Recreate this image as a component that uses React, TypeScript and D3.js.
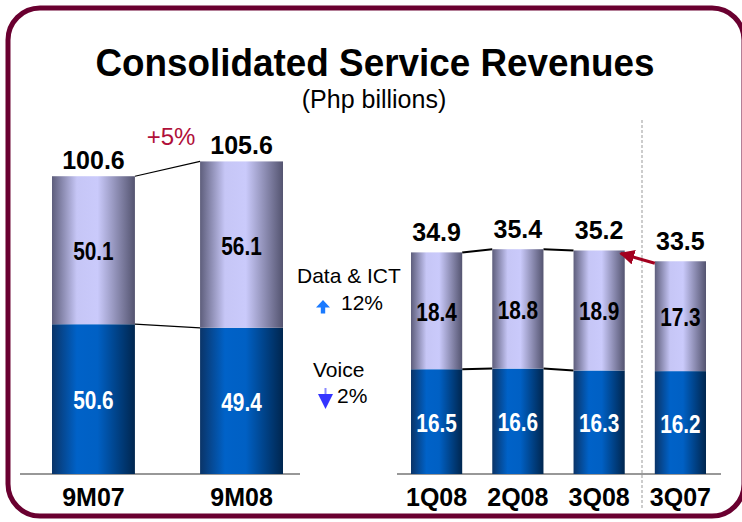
import React from 'react';
import * as d3 from 'd3';

// period totals and their split (Php billions)
const ytdCats = ['9M07', '9M08'];
const ytdVoice = [50.6, 49.4];
const ytdData = [50.1, 56.1];
const ytdTotal = [100.6, 105.6];
const ytdGrowth = '+5%';

const qtrCats = ['1Q08', '2Q08', '3Q08', '3Q07'];
const qtrVoice = [16.5, 16.6, 16.3, 16.2];
const qtrData = [18.4, 18.8, 18.9, 17.3];
const qtrTotal = [34.9, 35.4, 35.2, 33.5];
const qtrLinked = ['1Q08', '2Q08', '3Q08']; // connector lines run between these

const legendRows = [
  { name: 'Data & ICT', change: '12%', dir: 'up' },
  { name: 'Voice', change: '2%', dir: 'down' },
];

const W = 742;
const H = 522;
const base = 474;
const sans = 'Liberation Sans, Arial, sans-serif';
const narrow = 'Liberation Sans Narrow, Arial Narrow, Liberation Sans, sans-serif';

type Panel = {
  cats: string[];
  voice: number[];
  data: number[];
  total: number[];
  x: d3.ScaleBand<string>;
  y: d3.ScaleLinear<number, number>;
  linked: string[];
  topGap: number;
  stroke: number;
};

const left: Panel = {
  cats: ytdCats, voice: ytdVoice, data: ytdData, total: ytdTotal,
  x: d3.scaleBand<string>().domain(ytdCats).range([52, 283]).paddingInner(0.44),
  y: d3.scaleLinear().domain([0, 110]).range([base, base - 110 * 2.96]),
  linked: ytdCats, topGap: 7, stroke: 1.2,
};

const right: Panel = {
  cats: qtrCats, voice: qtrVoice, data: qtrData, total: qtrTotal,
  x: d3.scaleBand<string>().domain(qtrCats).range([411, 706]).paddingInner(0.37),
  y: d3.scaleLinear().domain([0, 40]).range([base, base - 40 * 6.35]),
  linked: qtrLinked, topGap: 11, stroke: 2,
};

function Bars({ p }: { p: Panel }) {
  const bw = p.x.bandwidth();
  const links = [];
  for (let i = 0; i < p.linked.length - 1; i++) {
    const a = p.cats.indexOf(p.linked[i]);
    const b = p.cats.indexOf(p.linked[i + 1]);
    const x1 = p.x(p.cats[a])! + bw;
    const x2 = p.x(p.cats[b])!;
    links.push(
      <line key={'t' + i} x1={x1} x2={x2} y1={p.y(p.total[a])} y2={p.y(p.total[b])}
        stroke="#000" strokeWidth={p.stroke} />,
      <line key={'v' + i} x1={x1} x2={x2} y1={p.y(p.voice[a])} y2={p.y(p.voice[b])}
        stroke="#000" strokeWidth={p.stroke} />
    );
  }
  return (
    <g>
      {links}
      {p.cats.map((c, i) => {
        const x0 = p.x(c)!;
        const cx = x0 + bw / 2;
        const yv = p.y(p.voice[i]);
        const yt = p.y(p.total[i]);
        return (
          <g key={c}>
            <rect x={x0} y={yv} width={bw} height={base - yv} fill="url(#gVoice)" />
            <rect x={x0} y={yt} width={bw} height={yv - yt} fill="url(#gData)" />
            <text transform={`translate(${cx},${(yv + base) / 2 + 10}) scale(0.8,1)`}
              textAnchor="middle" fontFamily={narrow} fontWeight="bold" fontSize={26} fill="#fff">
              {p.voice[i].toFixed(1)}
            </text>
            <text transform={`translate(${cx},${(yt + yv) / 2 + 10}) scale(0.8,1)`}
              textAnchor="middle" fontFamily={narrow} fontWeight="bold" fontSize={26} fill="#000">
              {p.data[i].toFixed(1)}
            </text>
            <text x={cx} y={yt - p.topGap} textAnchor="middle" fontFamily={sans}
              fontWeight="bold" fontSize={25}>{p.total[i].toFixed(1)}</text>
            <text x={cx} y={506} textAnchor="middle" fontFamily={sans}
              fontWeight="bold" fontSize={25}>{c}</text>
          </g>
        );
      })}
    </g>
  );
}

export default function App() {
  const rightBw = right.x.bandwidth();
  // red arrow from 3Q07 top back to 3Q08 top
  const ax1 = right.x('3Q07')!;
  const ay1 = right.y(qtrTotal[3]) + 2;
  const ax2 = right.x('3Q08')! + rightBw - 4;
  const ay2 = right.y(qtrTotal[2]) + 3;

  return (
    <svg width={W} height={H} style={{ position: 'absolute', left: 0, top: 0 }}>
      <defs>
        <linearGradient id="gData" x1="0" x2="1" y1="0" y2="0">
          <stop offset="0%" stopColor="#5e5e7c" />
          <stop offset="30%" stopColor="#c6c6f6" />
          <stop offset="55%" stopColor="#cacafb" />
          <stop offset="100%" stopColor="#545470" />
        </linearGradient>
        <linearGradient id="gVoice" x1="0" x2="1" y1="0" y2="0">
          <stop offset="0%" stopColor="#0a3468" />
          <stop offset="30%" stopColor="#0062c8" />
          <stop offset="55%" stopColor="#0060c4" />
          <stop offset="100%" stopColor="#00264f" />
        </linearGradient>
        <marker id="redHead" viewBox="0 0 10 10" refX="9" refY="5" markerWidth="5" markerHeight="5"
          orient="auto" markerUnits="strokeWidth">
          <path d="M0,0 L10,5 L0,10 z" fill="#a3001f" />
        </marker>
      </defs>
      <rect x={0} y={0} width={W} height={H} fill="#fff" />
      <rect x={8} y={8} width={736} height={508} rx={32} fill="none" stroke="#6a0030" strokeWidth={5} />

      <text transform="translate(375,76) scale(0.97,1)" textAnchor="middle" fontFamily={sans}
        fontWeight="bold" fontSize={38}>
        Consolidated Service Revenues
      </text>
      <text x={374} y={108} textAnchor="middle" fontFamily={sans} fontSize={25}>(Php billions)</text>

      {/* baselines */}
      <line x1={20} x2={300} y1={base} y2={base} stroke="#333" strokeWidth={1.2} />
      <line x1={397} x2={721} y1={base} y2={base} stroke="#333" strokeWidth={1.2} />
      <line x1={642} x2={642} y1={120} y2={510} stroke="#999" strokeWidth={1} strokeDasharray="3,2" />

      <Bars p={left} />
      <Bars p={right} />

      <text x={171} y={145} textAnchor="middle" fontFamily={sans} fontSize={24} fill="#b0103a">
        {ytdGrowth}
      </text>

      <line x1={ax1} y1={ay1} x2={ax2} y2={ay2} stroke="#a3001f" strokeWidth={3}
        markerEnd="url(#redHead)" />

      {/* legend */}
      {legendRows.map((r) => {
        const up = r.dir === 'up';
        const y0 = up ? 283 : 377;
        return (
          <g key={r.name}>
            <text x={up ? 297 : 313} y={y0} fontFamily={sans} fontSize={21}>{r.name}</text>
            {up ? (
              <path d={`M323,${y0 + 17} l-7,7.5 h4.8 v6 h4.4 v-6 h4.8 z`} fill="#1a7aff" />
            ) : (
              <g>
                <rect x={324.5} y={y0 + 11} width={2} height={8} fill="#8a8aff" />
                <path d={`M318,${y0 + 17} h15 l-7.5,15 z`} fill="#3434ff" />
              </g>
            )}
            <text x={up ? 341 : 337} y={y0 + (up ? 27 : 26)}
              fontFamily={sans} fontSize={21}>{r.change}</text>
          </g>
        );
      })}
    </svg>
  );
}
